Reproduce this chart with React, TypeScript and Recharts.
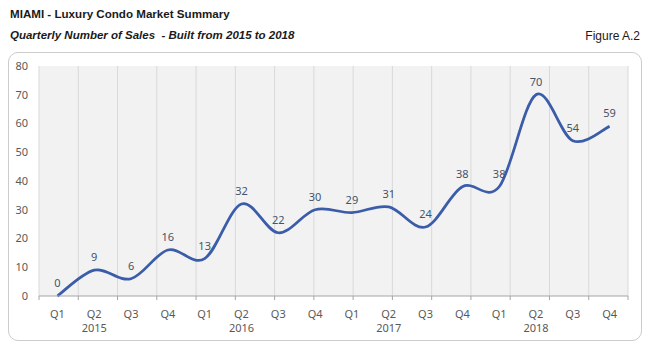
import { LineChart, Line, XAxis, YAxis, CartesianGrid, LabelList } from 'recharts'

const quarters = ['Q1', 'Q2', 'Q3', 'Q4', 'Q1', 'Q2', 'Q3', 'Q4', 'Q1', 'Q2', 'Q3', 'Q4', 'Q1', 'Q2', 'Q3', 'Q4']
const years = ['2015', '2016', '2017', '2018']
const sales = [0, 9, 6, 16, 13, 32, 22, 30, 29, 31, 24, 38, 38, 70, 54, 59]
const yTicks = [0, 10, 20, 30, 40, 50, 60, 70, 80]

// x is the slot index, centred in its quarter
const rows = sales.map((v, i) => ({
  x: i + 0.5,
  q: quarters[i],
  year: i % 4 === 1 ? years[Math.floor(i / 4)] : '',
  sales: v,
}))
const boundaries = Array.from({ length: sales.length + 1 }, (_, i) => i)

const labelFont = '"Noto Sans", sans-serif'
const gray = '#595959'

// Excel-like smoothed line (Catmull-Rom, 1/6 control points)
// eslint-disable-next-line @typescript-eslint/no-explicit-any
function excelCurve(context: any) {
  let pts: [number, number][] = []
  return {
    areaStart() {},
    areaEnd() {},
    lineStart() {
      pts = []
    },
    lineEnd() {
      if (!pts.length) return
      context.moveTo(pts[0][0], pts[0][1])
      for (let i = 0; i < pts.length - 1; i++) {
        const p0 = pts[i - 1] || pts[i]
        const p1 = pts[i]
        const p2 = pts[i + 1]
        const p3 = pts[i + 2] || p2
        context.bezierCurveTo(
          p1[0] + (p2[0] - p0[0]) / 6,
          p1[1] + (p2[1] - p0[1]) / 6,
          p2[0] - (p3[0] - p1[0]) / 6,
          p2[1] - (p3[1] - p1[1]) / 6,
          p2[0],
          p2[1],
        )
      }
    },
    point(x: number, y: number) {
      pts.push([+x, +y])
    },
  }
}

function EmptyTick() {
  return <g />
}

// eslint-disable-next-line @typescript-eslint/no-explicit-any
function QuarterTick({ x, y, payload }: any) {
  const row = rows[Math.floor(payload.value)]
  if (!row) return null
  return (
    <g>
      <text x={x} y={y} dy={10} textAnchor="middle" fill={gray} fontSize={11} fontFamily={labelFont}>
        {row.q}
      </text>
      {row.year && (
        <text x={x} y={y} dy={24} textAnchor="middle" fill={gray} fontSize={11} fontFamily={labelFont}>
          {row.year}
        </text>
      )}
    </g>
  )
}

export default function App() {
  return (
    <div style={{ position: 'absolute', left: 0, top: 0, width: 650, height: 350, background: '#fff', fontFamily: '"Liberation Sans", Arial, sans-serif' }}>
      <div style={{ position: 'absolute', left: 10, top: 7, fontSize: 11.6, fontWeight: 700, color: '#1a1a1a' }}>
        MIAMI - Luxury Condo Market Summary
      </div>
      <div style={{ position: 'absolute', left: 10, top: 29, fontSize: 11.5, fontWeight: 700, fontStyle: 'italic', color: '#1a1a1a', whiteSpace: 'pre' }}>
        {'Quarterly Number of Sales  - Built from 2015 to 2018'}
      </div>
      <div style={{ position: 'absolute', right: 10, top: 29, fontSize: 12, color: '#1a1a1a' }}>Figure A.2</div>
      <div style={{ position: 'absolute', left: 8, top: 52, width: 632, height: 287, border: '1px solid #cccccc', borderRadius: 10 }} />
      <div style={{ position: 'absolute', left: 0, top: 0 }}>
        <LineChart width={650} height={350} data={rows} margin={{ top: 66, right: 22, left: 9, bottom: 10 }}>
          <CartesianGrid xAxisId="grid" horizontal={false} stroke="#d9d9d9" fill="#f2f2f2" />
          <XAxis
            xAxisId="grid"
            type="number"
            domain={[0, boundaries.length - 1]}
            ticks={boundaries}
            interval={0}
            tick={<EmptyTick />}
            tickSize={4}
            height={4}
            axisLine={{ stroke: '#a6a6a6' }}
            tickLine={{ stroke: '#a6a6a6' }}
          />
          <XAxis
            xAxisId="lab"
            dataKey="x"
            type="number"
            domain={[0, boundaries.length - 1]}
            ticks={rows.map((r) => r.x)}
            interval={0}
            tick={<QuarterTick />}
            axisLine={false}
            tickLine={false}
            height={40}
          />
          <YAxis
            domain={[0, 80]}
            ticks={yTicks}
            width={30}
            axisLine={false}
            tickLine={false}
            tickMargin={5}
            tick={{ fill: gray, fontSize: 11, fontFamily: labelFont }}
          />
          <Line
            xAxisId="lab"
            dataKey="sales"
            type={excelCurve}
            stroke="#3a5ca9"
            strokeWidth={2.75}
            dot={false}
            isAnimationActive={false}
          >
            <LabelList dataKey="sales" position="top" offset={9} fill="#44546a" fontSize={11} fontFamily={labelFont} />
          </Line>
        </LineChart>
      </div>
    </div>
  )
}
